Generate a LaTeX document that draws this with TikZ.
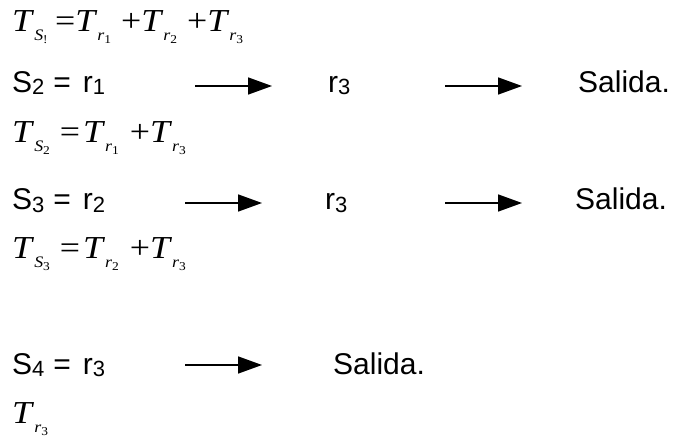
\documentclass[tikz,border=0pt]{standalone}
\usepackage{fontspec}
\setmainfont{Liberation Sans}
\newfontfamily\tmsfont[FakeStretch=1.12]{Liberation Serif}
\usetikzlibrary{arrows.meta}
\newcommand{\ssub}[1]{\raisebox{-2pt}{\fontsize{22}{22}\selectfont #1}}
\newcommand{\Tof}[2]{\textit{T}\raisebox{-9pt}{\fontsize{16}{16}\selectfont\textit{#1}\raisebox{-3pt}{\fontsize{12}{12}\selectfont #2}}}

\begin{document}
\begin{tikzpicture}[
  x=1pt, y=-1pt,
  txt/.style={anchor=base west, inner sep=0pt, font=\fontsize{30}{30}\selectfont},
  frm/.style={anchor=base west, inner sep=0pt, font=\fontsize{32}{32}\selectfont\tmsfont},
  arrow/.style={-{Triangle[length=24pt,width=17pt]}, line width=1.6pt}
]
\useasboundingbox (0,0) rectangle (676,438);

\node[frm] (ts1) at (12,32) {\Tof{S}{!}\hspace{7.5pt}=\Tof{r}{1}\hspace{10pt}+\Tof{r}{2}\hspace{10pt}+\Tof{r}{3}};

\node[txt] (s2) at (12,93) {S\ssub{2}\hspace{9pt}=\hspace{12pt}r\ssub{1}};
\node[txt] (s2r3) at (328,93) {r\ssub{3}};
\node[txt] (s2out) at (578,93) {Salida.};
\coordinate (a2a) at (195,86);
\coordinate (a2b) at (272,86);
\coordinate (a2c) at (445,86);
\coordinate (a2d) at (522,86);
\node[frm] (ts2) at (12,143) {\Tof{S}{2}\hspace{10pt}=\hspace{3pt}\Tof{r}{1}\hspace{11pt}+\Tof{r}{3}};

\node[txt] (s3) at (12,210) {S\ssub{3}\hspace{9pt}=\hspace{12pt}r\ssub{2}};
\node[txt] (s3r3) at (325,210) {r\ssub{3}};
\node[txt] (s3out) at (575,210) {Salida.};
\coordinate (a3a) at (185,203);
\coordinate (a3b) at (262,203);
\coordinate (a3c) at (445,203);
\coordinate (a3d) at (522,203);
\node[frm] (ts3) at (12,258) {\Tof{S}{3}\hspace{10pt}=\hspace{3pt}\Tof{r}{2}\hspace{11pt}+\Tof{r}{3}};

\node[txt] (s4) at (12,374) {S\ssub{4}\hspace{9pt}=\hspace{12pt}r\ssub{3}};
\node[txt] (s4out) at (333,374) {Salida.};
\coordinate (a4a) at (185,365);
\coordinate (a4b) at (262,365);
\node[frm] (ts4) at (12,423) {\Tof{r}{3}};

\draw[arrow] (a2a) -- (a2b);
\draw[arrow] (a2c) -- (a2d);
\draw[arrow] (a3a) -- (a3b);
\draw[arrow] (a3c) -- (a3d);
\draw[arrow] (a4a) -- (a4b);
\end{tikzpicture}
\end{document}
